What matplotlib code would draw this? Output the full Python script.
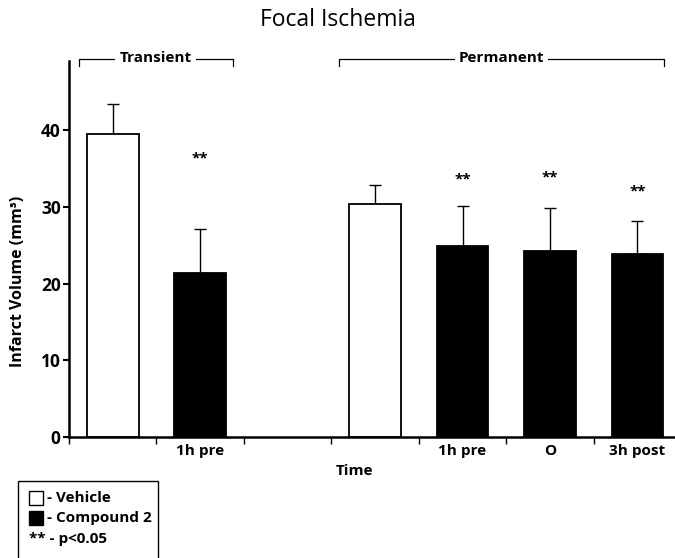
import numpy as np
import matplotlib
matplotlib.use('Agg')
import matplotlib.pyplot as plt
from matplotlib.patches import Rectangle

plt.rcParams['font.family'] = ['Open Sans', 'DejaVu Sans']

# data
slot_labels = ['', '1h pre', '', '', '1h pre', 'O', '3h post']
bar_pos = [0, 1, 3, 4, 5, 6]
volume = [39.5, 21.4, 30.4, 24.9, 24.2, 23.8]
err_up = [3.9, 5.7, 2.4, 5.2, 5.7, 4.3]
treatment = ['Vehicle', 'Compound 2', 'Vehicle', 'Compound 2', 'Compound 2', 'Compound 2']
star_pos = [1, 4, 5, 6]
star_y = [36.3, 33.6, 33.8, 32.0]
groups = ['Transient', 'Permanent']
group_span = [(-0.39, 1.37), (2.59, 6.30)]

FONTSIZE = 11
W, H = 675, 558
fig = plt.figure(figsize=(W / 100, H / 100), dpi=100)
ax = fig.add_axes([69 / W, 1 - 437 / H, (W - 69) / W, (437 - 61) / H])

face = {'Vehicle': 'white', 'Compound 2': 'black'}
ax.bar(bar_pos, volume, width=0.59, color=[face[t] for t in treatment],
       edgecolor='black', linewidth=1.3, zorder=2)
ax.errorbar(bar_pos, volume, yerr=[np.zeros(len(err_up)), err_up], fmt='none',
            ecolor='black', elinewidth=1.0, capsize=4, capthick=1.0, zorder=1)
for x, y in zip(star_pos, star_y):
    ax.text(x, y, '**', ha='center', va='center', fontsize=11, fontweight='bold')

ax.set_xlim(-0.5, 6.43)
ax.set_ylim(0, 49)
for s in ['top', 'right']:
    ax.spines[s].set_visible(False)
for s in ['left', 'bottom']:
    ax.spines[s].set_linewidth(1.8)

ax.set_yticks([0, 10, 20, 30, 40])
ax.tick_params(axis='y', direction='out', length=4, width=1.5, pad=2, labelsize=12.5)
for lab in ax.get_yticklabels():
    lab.set_fontweight('bold')

ax.set_xticks(np.arange(-0.5, 6, 1.0))
ax.set_xticklabels([])
ax.tick_params(axis='x', which='major', direction='out', length=5, width=1.0)
ax.set_xticks(np.arange(len(slot_labels)), minor=True)
ax.set_xticklabels(slot_labels, minor=True, fontsize=FONTSIZE, fontweight='bold')
ax.tick_params(axis='x', which='minor', length=0, pad=5)

ax.set_xlabel('Time', fontsize=FONTSIZE, fontweight='bold')
ax.xaxis.set_label_coords((355 - 69) / (W - 69), -0.072)
fig.text(18 / W, 1 - 281 / H, 'Infarct Volume (mm³)', rotation=90, ha='center', va='center',
         fontsize=11.5, fontweight='bold')

fig.text(338 / W, 1 - 20 / H, 'Focal Ischemia', ha='center', va='center', fontsize=16.5)

# group brackets above the plot
for name, (x0, x1) in zip(groups, group_span):
    ax.plot([x0, x0, x1, x1], [48.4, 49.3, 49.3, 48.4], color='black', lw=0.9,
            clip_on=False)
    ax.text((x0 + x1) / 2, 49.4, name, ha='center', va='center', fontsize=11,
            fontweight='bold', bbox=dict(facecolor='white', edgecolor='none', pad=3))

# legend box (runs off the bottom edge)
tf = fig.transFigure
fig.patches.append(Rectangle((18 / W, -0.05), 140 / W, 0.05 + (H - 481) / H,
                             transform=tf, fill=False, edgecolor='black', lw=1.0))
rows = [498, 518, 539]
for y, t in zip(rows[:2], ['Vehicle', 'Compound 2']):
    fig.patches.append(Rectangle((29 / W, 1 - (y + 7) / H), 14 / W, 14 / H, transform=tf,
                                 facecolor=face[t], edgecolor='black', lw=1.0))
    fig.text(47 / W, 1 - y / H, '- ' + t, ha='left', va='center', fontsize=FONTSIZE,
             fontweight='bold')
fig.text(29 / W, 1 - rows[2] / H, '** - p<0.05', ha='left', va='center', fontsize=FONTSIZE,
         fontweight='bold')

fig.savefig('out.png', dpi=100)
